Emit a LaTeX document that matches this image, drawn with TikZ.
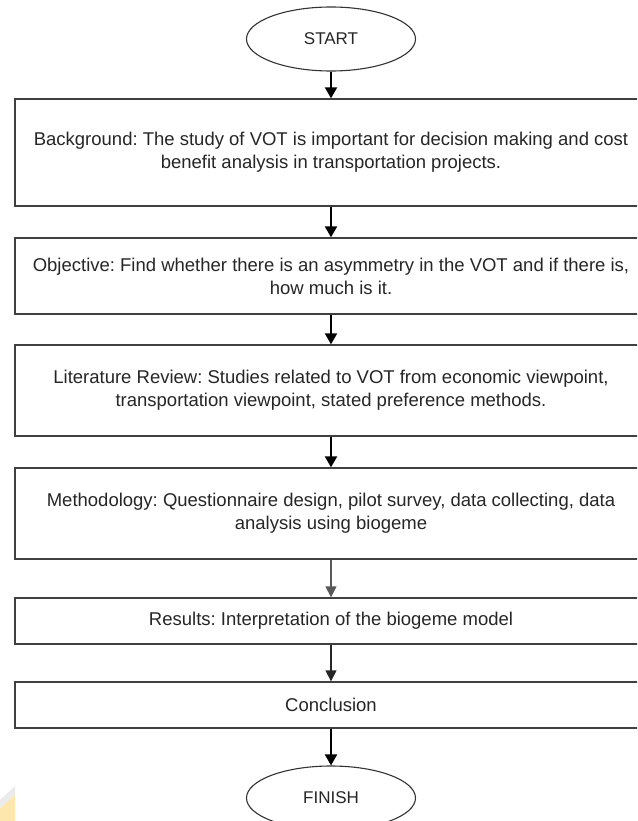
\documentclass[tikz,border=0pt]{standalone}
\usepackage{fontspec}
\setmainfont{Liberation Sans}
\usetikzlibrary{shapes.geometric,arrows.meta}
\frenchspacing

\begin{document}
\begin{tikzpicture}[x=1pt, y=-1pt,
  stepbox/.style={draw=black!75, line width=1.3pt, minimum width=632pt, inner sep=0pt,
    align=center, text=black!85, font=\fontsize{18.5}{23}\selectfont},
  terminal/.style={ellipse, draw=black!80, line width=1.1pt, minimum width=169pt,
    minimum height=64pt, inner sep=0pt, text=black!85, font=\fontsize{17}{20}\selectfont},
  flow/.style={-{Triangle[width=12pt,length=11pt]}, line width=2pt, black},
  thinflow/.style={-{Triangle[width=11pt,length=11pt]}, line width=1.3pt}]
  % Page frame
  \clip (0,0) rectangle (637,821);
  \fill[white] (0,0) rectangle (637,821);

  % Watermark corner
  \fill[yellow!45!orange!30] (0,808) -- (15,795) -- (15,821) -- (0,821) -- cycle;
  \fill[black!8] (0,800) -- (15,786) -- (15,795) -- (0,808) -- cycle;

  % Start and finish
  \node[terminal] (start) at (331,39) {START};
  \node[terminal] (finish) at (331,798) {FINISH};

  % Steps
  \node[stepbox, minimum height=107pt] (background) at (331,152.5)
    {Background: The study of VOT is important for decision making and cost\\benefit analysis in transportation projects.};
  \node[stepbox, minimum height=76pt] (objective) at (331,276)
    {Objective: Find whether there is an asymmetry in the VOT and if there is,\\how much is it.};
  \node[stepbox, minimum height=91pt] (literature) at (331,390.5)
    {Literature Review: Studies related to VOT from economic viewpoint,\\transportation viewpoint, stated preference methods.};
  \node[stepbox, minimum height=91pt] (method) at (331,513.5)
    {Methodology: Questionnaire design, pilot survey, data collecting, data\\analysis using biogeme};
  \node[stepbox, minimum height=46pt] (results) at (331,621)
    {Results: Interpretation of the biogeme model};
  \node[stepbox, minimum height=46pt] (conclusion) at (331,705) {Conclusion};

  % Arrows
  \draw[flow] (start) -- (background);
  \draw[flow] (background) -- (objective);
  \draw[flow] (objective) -- (literature);
  \draw[flow] (literature) -- (method);
  \draw[thinflow, black!65] (method) -- (results);
  \draw[thinflow, black!85] (results) -- (conclusion);
  \draw[flow] (conclusion) -- (finish);
\end{tikzpicture}
\end{document}
